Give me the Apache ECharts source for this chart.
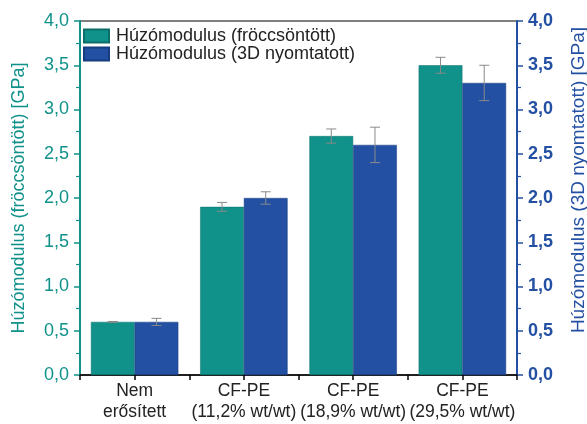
<!DOCTYPE html>
<html><head><meta charset="utf-8">
<script src="https://cdn.jsdelivr.net/npm/echarts@6/dist/echarts.min.js"></script>
<style>html,body{margin:0;padding:0;background:#fff}#c{width:587px;height:424px}</style>
</head><body><div id="c"></div>
<script>
const categories = ['Nem\nerősített', 'CF-PE\n(11,2% wt/wt)', 'CF-PE\n(18,9% wt/wt)', 'CF-PE\n(29,5% wt/wt)'];
const injMolded = [0.6, 1.9, 2.7, 3.5];
const injErr = [0.005, 0.05, 0.08, 0.09];
const printed = [0.6, 2.0, 2.6, 3.3];
const printedErr = [0.04, 0.07, 0.2, 0.2];
const seriesNames = ['Húzómodulus (fröccsöntött)', 'Húzómodulus (3D nyomtatott)'];
const leftName = 'Húzómodulus (fröccsöntött) [GPa]';
const rightName = 'Húzómodulus (3D nyomtatott) [GPa]';

const TEAL = '#10918a';
const BLUE = '#2350a2';
const FONT = 'Liberation Sans, Arial, sans-serif';

function errSeries(vals, errs, side) {
  return {
    type: 'custom',
    xAxisIndex: 0, yAxisIndex: 0,
    z: 5,
    silent: true,
    data: vals.map((v, i) => [i, v - errs[i], v + errs[i]]),
    renderItem: function (params, api) {
      const band = api.size([1, 0])[0];
      const x0 = api.coord([api.value(0), 0])[0] + side * 0.2 * band;
      const lo = api.coord([api.value(0), api.value(1)])[1];
      const hi = api.coord([api.value(0), api.value(2)])[1];
      const w = 5;
      const style = { stroke: '#8a8a8a', lineWidth: 1 };
      return { type: 'group', children: [
        { type: 'line', shape: { x1: x0, y1: lo, x2: x0, y2: hi }, style },
        { type: 'line', shape: { x1: x0 - w, y1: hi, x2: x0 + w, y2: hi }, style },
        { type: 'line', shape: { x1: x0 - w, y1: lo, x2: x0 + w, y2: lo }, style }
      ]};
    }
  };
}

const chart = echarts.init(document.getElementById('c'), null, { renderer: 'canvas' });
chart.setOption({
  animation: false,
  textStyle: { fontFamily: FONT },
  grid: { left: 80, right: 70, top: 21, bottom: 49, containLabel: false, outerBoundsMode: 'none',
          show: true, borderColor: '#000', borderWidth: 1, backgroundColor: 'transparent' },
  legend: {
    left: 78, top: 22, orient: 'vertical', itemGap: 0,
    itemWidth: 25, itemHeight: 13,
    textStyle: { fontSize: 18, color: '#222', fontFamily: FONT, padding: [0, 0, 0, 2] },
    data: [{ name: seriesNames[0], icon: 'rect' }, { name: seriesNames[1], icon: 'rect' }]
  },
  xAxis: [{
    type: 'category', data: categories, position: 'bottom',
    axisLine: { lineStyle: { color: '#000', width: 1.5 } },
    axisTick: { show: true, inside: false, length: 5, lineStyle: { color: '#000', width: 1.5 } },
    axisLabel: { interval: 0, fontSize: 17.5, color: '#222', lineHeight: 21, margin: 6, fontFamily: FONT }
  }, {
    type: 'category', data: categories, position: 'bottom',
    axisLine: { show: false },
    axisTick: { show: true, alignWithLabel: true, length: 5, lineStyle: { color: '#000', width: 1.5 } },
    axisLabel: { show: false }
  }],
  yAxis: [{
    type: 'value', min: 0, max: 4, interval: 0.5, position: 'left',
    name: leftName, nameLocation: 'middle', nameGap: 52, nameRotate: 90,
    nameTextStyle: { color: TEAL, fontSize: 18, fontFamily: FONT },
    axisLine: { show: true, lineStyle: { color: TEAL, width: 2 } },
    axisTick: { show: true, length: 6, lineStyle: { color: TEAL, width: 1.5 } },
    minorTick: { show: true, splitNumber: 2, length: 4, lineStyle: { color: TEAL, width: 1.2 } },
    splitLine: { show: false },
    axisLabel: { color: TEAL, fontSize: 18, margin: 11, fontFamily: FONT, formatter: v => v.toFixed(1).replace('.', ',') }
  }, {
    type: 'value', min: 0, max: 4, interval: 0.5, position: 'right',
    name: rightName, nameLocation: 'middle', nameGap: 52, nameRotate: 90,
    nameTextStyle: { color: BLUE, fontSize: 19, fontFamily: FONT, padding: [0, 0, 0, 36] },
    axisLine: { show: true, lineStyle: { color: BLUE, width: 2 } },
    axisTick: { show: true, length: 6, lineStyle: { color: BLUE, width: 1.5 } },
    minorTick: { show: true, splitNumber: 2, length: 4, lineStyle: { color: BLUE, width: 1.2 } },
    splitLine: { show: false },
    axisLabel: { color: BLUE, fontSize: 18, fontWeight: 'bold', margin: 11, fontFamily: FONT, formatter: v => v.toFixed(1).replace('.', ',') }
  }],
  series: [{
    name: seriesNames[0], type: 'bar', xAxisIndex: 0, yAxisIndex: 0,
    data: injMolded, barGap: '0%', barCategoryGap: '20%',
    itemStyle: { color: TEAL, borderColor: '#0b6f69', borderWidth: 0.5 }
  }, {
    name: seriesNames[1], type: 'bar', xAxisIndex: 0, yAxisIndex: 1,
    data: printed, barGap: '0%', barCategoryGap: '20%',
    itemStyle: { color: BLUE, borderColor: '#183c80', borderWidth: 0.5 }
  },
  errSeries(injMolded, injErr, -1),
  errSeries(printed, printedErr, 1)
  ]
});
</script></body></html>
